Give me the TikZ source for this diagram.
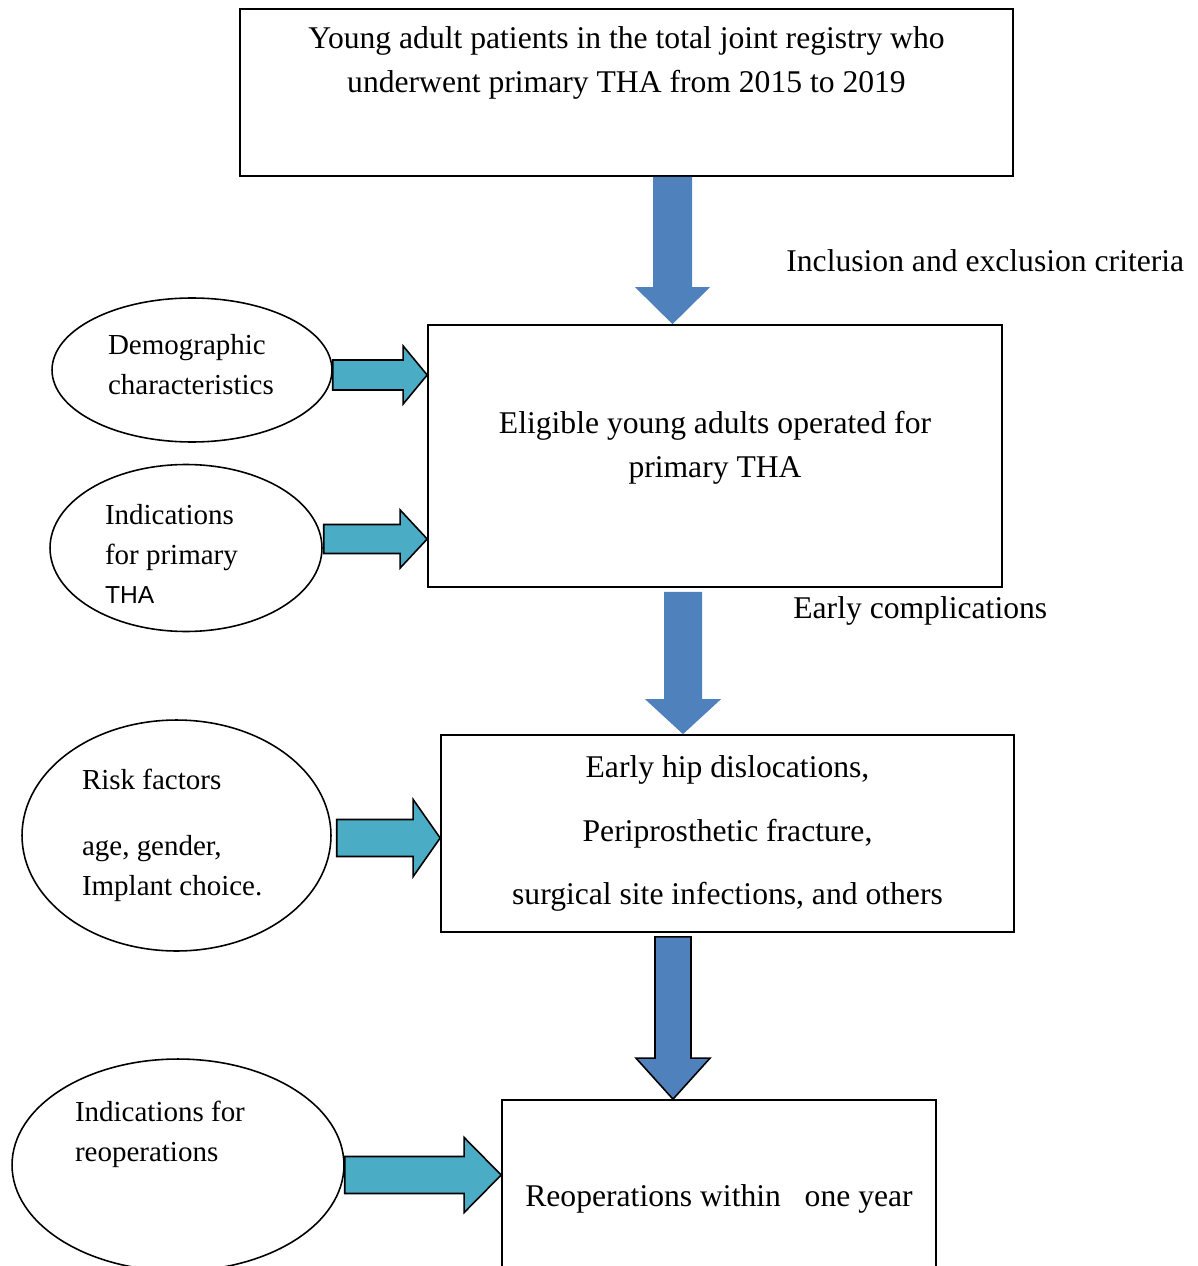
\documentclass[tikz,border=0pt]{standalone}
\usepackage{fontspec}
\setmainfont{Liberation Serif}
\newfontfamily\arialfont{Liberation Sans}
\usetikzlibrary{calc,positioning,shapes.geometric}

\definecolor{arrowblue}{HTML}{4F81BD}
\definecolor{arrowteal}{HTML}{4BACC6}

\newcommand\dnarrow[6][]{%
  \path (#2) coordinate (arrs) (#3 -| arrs) coordinate (arrt);
  \draw[downfill,#1] ($(arrs)+(-#4,0)$) -- ($(arrt)+(-#4,-#6)$) -- ($(arrt)+(-#5,-#6)$) -- (arrt)
    -- ($(arrt)+(#5,-#6)$) -- ($(arrt)+(#4,-#6)$) -- ($(arrs)+(#4,0)$) -- cycle;}
\newcommand\sidearrow[5]{%
  \path (#1) coordinate (arrs) (#2 |- arrs) coordinate (arrt);
  \draw[sidefill] ($(arrs)+(0,-#3)$) -- ($(arrt)+(-#5,-#3)$) -- ($(arrt)+(-#5,-#4)$) -- (arrt)
    -- ($(arrt)+(-#5,#4)$) -- ($(arrt)+(-#5,#3)$) -- ($(arrs)+(0,#3)$) -- cycle;}

\begin{document}
\begin{tikzpicture}[x=0.02cm,y=-0.02cm,
  box/.style={draw,line width=1pt,inner sep=0pt,align=center,font=\fontsize{18}{25}\selectfont},
  oval/.style={draw,ellipse,line width=0.9pt,inner sep=0pt,align=flush left,font=\fontsize{16.5}{22.5}\selectfont},
  lbl/.style={inner sep=0pt,font=\fontsize{18}{25}\selectfont},
  downfill/.style={fill=arrowblue,draw=none},
  sidefill/.style={fill=arrowteal,draw=black,line width=0.9pt,line join=miter}]
\useasboundingbox (0,0) rectangle (1197,1266);
\clip (0,0) rectangle (1197,1266);
\node[box,minimum width=15.46cm,minimum height=3.34cm] (reg) at (626.5,92.5) {};
\node[lbl,align=center,below=0.36cm of reg.north] (regtxt) {Young adult patients in the total joint registry who\\underwent primary THA from 2015 to 2019};
\node[box,minimum width=11.48cm,minimum height=5.24cm] (elig) at (715,456) {Eligible young adults operated for\\primary THA\\[-12pt]\mbox{}};
\node[box,minimum width=11.46cm,minimum height=3.94cm,font=\fontsize{18}{36}\selectfont] (comp) at (727.5,833.5) {Early hip dislocations,\\Periprosthetic fracture,\\surgical site infections, and others};
\node[box,minimum width=8.68cm,minimum height=3.96cm] (reop) at (719,1199) {Reoperations within\ \ \ one year};
\node[oval,minimum width=5.6cm,minimum height=2.88cm,text width=3.36cm] (demo) at (192,370) {Demographic\\characteristics\\[-16pt]\mbox{}};
\node[oval,minimum width=5.44cm,minimum height=3.34cm,text width=3.24cm] (indic) at (186,548) {\mbox{}\\[-4pt]Indications\\for primary\\{\arialfont\fontsize{14}{22.5}\selectfont THA}};
\node[oval,minimum width=6.18cm,minimum height=4.62cm,text width=3.78cm] (risk) at (176.5,835.5) {Risk factors\\[15pt]age, gender,\\Implant choice.};
\node[oval,minimum width=6.64cm,minimum height=4.24cm,text width=4.12cm] (reopind) at (178,1165) {Indications for\\reoperations\\[16pt]\mbox{}};
\node[lbl,anchor=west] (incl) at (786,261) {Inclusion and exclusion criteria};
\node[lbl,anchor=west] (early) at (793,611) {Early complications};
\dnarrow{$(reg.south)+(46,0)$}{elig.north}{19.5}{37.5}{37}
\dnarrow{$(elig.south)+(-32,4)$}{comp.north}{19}{38}{35}
\dnarrow[draw=black,line width=0.9pt]{$(comp.south)+(-54.5,4)$}{reop.north}{18}{37}{41}
\sidearrow{$(demo.east)+(0,5)$}{elig.west}{15}{29}{24}
\sidearrow{$(indic.east)+(1,-9)$}{elig.west}{14.5}{29}{27}
\sidearrow{$(risk.east)+(5,2.5)$}{comp.west}{18.5}{38.5}{27}
\sidearrow{$(reopind.east)+(0,10)$}{reop.west}{18.5}{37.5}{37}
\end{tikzpicture}
\end{document}
